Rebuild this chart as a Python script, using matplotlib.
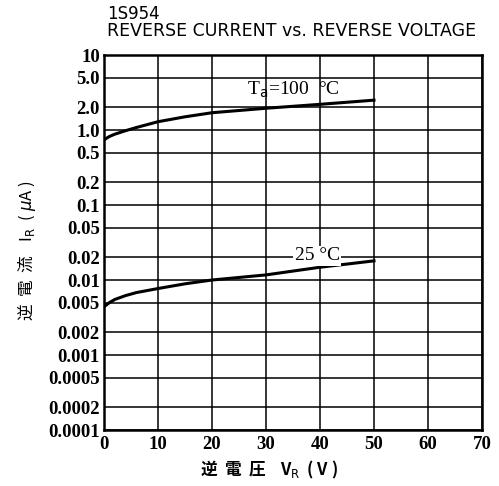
import numpy as np
import matplotlib
matplotlib.use('Agg')
import matplotlib.pyplot as plt

# data (V, uA)
v_100 = [0, 1, 2, 4, 6, 10, 15, 20, 30, 40, 50]
ir_100 = [0.74, 0.82, 0.88, 0.98, 1.08, 1.29, 1.50, 1.70, 1.95, 2.2, 2.5]
v_25 = [0, 1, 2, 4, 6, 10, 15, 20, 30, 40, 50]
ir_25 = [0.0044, 0.0050, 0.0055, 0.0062, 0.0068, 0.0077, 0.0089, 0.0100, 0.0117, 0.0148, 0.0180]

xticks = [0, 10, 20, 30, 40, 50, 60, 70]
yticks = [10, 5, 2, 1, 0.5, 0.2, 0.1, 0.05, 0.02, 0.01, 0.005, 0.002, 0.001,
          0.0005, 0.0002, 0.0001]
ylabels = ['10', '5.0', '2.0', '1.0', '0.5', '0.2', '0.1', '0.05', '0.02',
           '0.01', '0.005', '0.002', '0.001', '0.0005', '0.0002', '0.0001']

cjk = ['Noto Sans CJK JP', 'DejaVu Sans']
serif = ['Liberation Serif', 'DejaVu Serif']

fig = plt.figure(figsize=(4.99, 4.86), dpi=100)
ax = fig.add_axes([0.2084, 0.1152, 0.7575, 0.7716])
ax.set_yscale('log')
ax.set_xlim(0, 70)
ax.set_ylim(0.0001, 10)

ax.set_xticks(xticks)
ax.set_xticklabels([str(t) for t in xticks], fontfamily=serif,
                   fontweight='bold', fontsize=13.5)
ax.set_yticks(yticks)
ax.set_yticklabels(ylabels, fontfamily=serif, fontweight='bold', fontsize=13.5)
ax.minorticks_off()
ax.tick_params(direction='in', length=0, pad=3)
ax.tick_params(axis='x', pad=4)
ax.grid(True, color='black', lw=1.1)
for s in ax.spines.values():
    s.set_linewidth(1.8)

ax.plot(v_100, ir_100, color='black', lw=2.2, zorder=3)
ax.plot(v_25, ir_25, color='black', lw=2.2, zorder=3)

ax.text(35, 2.55, r'T$_{\rm a}$=100  °C', fontfamily=serif, fontsize=14,
        ha='center', va='bottom', zorder=4)
ax.text(39.5, 0.021, '25 °C', fontfamily=serif, fontsize=14, ha='center',
        va='center', zorder=4,
        bbox=dict(facecolor='white', edgecolor='none', pad=1))

fig.text(0.215, 0.972, '1S954', fontsize=12, fontfamily='DejaVu Sans',
         va='center', ha='left')
fig.text(0.215, 0.937, 'REVERSE CURRENT vs. REVERSE VOLTAGE', fontsize=12.5,
         fontfamily='DejaVu Sans', va='center', ha='left')

fig.text(0.055, 0.485, '逆  電  流    I$_{\\rm R}$  ( $\\mu$A )', rotation=90,
         fontfamily=cjk, fontsize=12, ha='center', va='center')
fig.text(0.54, 0.033, '逆  電  圧    V$_{\\rm R}$  ( V )', fontfamily=cjk,
         fontsize=12, ha='center', va='center', fontweight='bold')

fig.savefig('out.png', dpi=100)
